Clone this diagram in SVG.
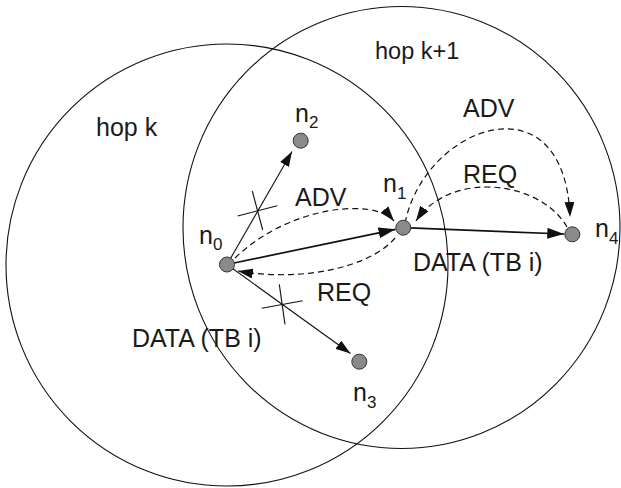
<svg xmlns="http://www.w3.org/2000/svg" width="621" height="488" viewBox="0 0 621 488">
<style>
.zone{fill:none;stroke:#111;stroke-width:1.1}
.node{fill:#8a8a8a;stroke:#333;stroke-width:1}
.t{font-family:"Liberation Sans",Arial,Helvetica,sans-serif;font-size:25px;fill:#1a1a1a}
.sub{font-size:17px}
.thin{fill:none;stroke:#111;stroke-width:1.1}
.thick{fill:none;stroke:#111;stroke-width:1.7}
.dash{fill:none;stroke:#111;stroke-width:1.2;stroke-dasharray:6 4}
.cross{fill:none;stroke:#111;stroke-width:1.1}
</style>
<defs>
<marker id="ah" viewBox="0 0 15 10" refX="15" refY="5" markerWidth="15" markerHeight="10" markerUnits="userSpaceOnUse" orient="auto">
<path d="M0,0 L15,5 L0,10 z" fill="#111"/>
</marker>
<marker id="ahb" viewBox="0 0 17 11" refX="17" refY="5.5" markerWidth="17" markerHeight="11" markerUnits="userSpaceOnUse" orient="auto">
<path d="M0,0 L17,5.5 L0,11 z" fill="#111"/>
</marker>
</defs>
<g id="zones">
<ellipse id="hop-k" class="zone" cx="227" cy="265" rx="221" ry="221"/>
<ellipse id="hop-k1" class="zone" cx="401.5" cy="227.5" rx="218.5" ry="221"/>
<text class="t" x="96" y="136">hop k</text>
<text class="t" x="375" y="59" style="font-size:23.5px">hop k+1</text>
</g>
<g id="connectors">
<path class="thin" d="M227,264.5 L292,151.5" marker-end="url(#ah)"/>
<path class="thin" d="M227,264.5 L350.5,353.5" marker-end="url(#ah)"/>
<path class="thick" d="M227,264.5 L395.5,229.3" marker-end="url(#ahb)"/>
<path class="thick" d="M403.3,227.7 L564.3,234" marker-end="url(#ahb)"/>
<path class="dash" d="M235,258 C290,205 375,198 394,221" marker-end="url(#ah)"/>
<path class="dash" d="M395,238 C370,268 300,282 238,271" marker-end="url(#ah)"/>
<path class="dash" d="M405,223 C425,125 565,75 570,217" marker-end="url(#ah)"/>
<path class="dash" d="M567,227 C540,180 450,170 416,221" marker-end="url(#ah)"/>
<g id="cross-n2">
<line class="cross" x1="237.7" y1="216" x2="277.3" y2="205.7"/>
<line class="cross" x1="252.3" y1="191" x2="262.7" y2="230"/>
</g>
<g id="cross-n3">
<line class="cross" x1="261.7" y1="308.3" x2="302.7" y2="300.7"/>
<line class="cross" x1="279.3" y1="284.3" x2="285" y2="324.3"/>
</g>
</g>
<g id="labels">
<text class="t" x="295" y="206">ADV</text>
<text class="t" x="317" y="301">REQ</text>
<text class="t" x="132" y="347">DATA (TB i)</text>
<text class="t" x="413" y="271">DATA (TB i)</text>
<text class="t" x="463" y="117">ADV</text>
<text class="t" x="463" y="183">REQ</text>
</g>
<g id="n0"><circle class="node" cx="227" cy="264.5" r="7.5"/><text class="t" x="199" y="244">n<tspan class="sub" dy="6">0</tspan></text></g>
<g id="n1"><circle class="node" cx="403.3" cy="227.7" r="7.5"/><text class="t" x="383" y="192">n<tspan class="sub" dy="7">1</tspan></text></g>
<g id="n2"><circle class="node" cx="300.7" cy="140.7" r="7.5"/><text class="t" x="295" y="122">n<tspan class="sub" dy="6">2</tspan></text></g>
<g id="n3"><circle class="node" cx="359.3" cy="361.7" r="7.5"/><text class="t" x="353" y="401">n<tspan class="sub" dy="7">3</tspan></text></g>
<g id="n4"><circle class="node" cx="572.3" cy="234.3" r="7.5"/><text class="t" x="595" y="237">n<tspan class="sub" dy="7">4</tspan></text></g>
</svg>
